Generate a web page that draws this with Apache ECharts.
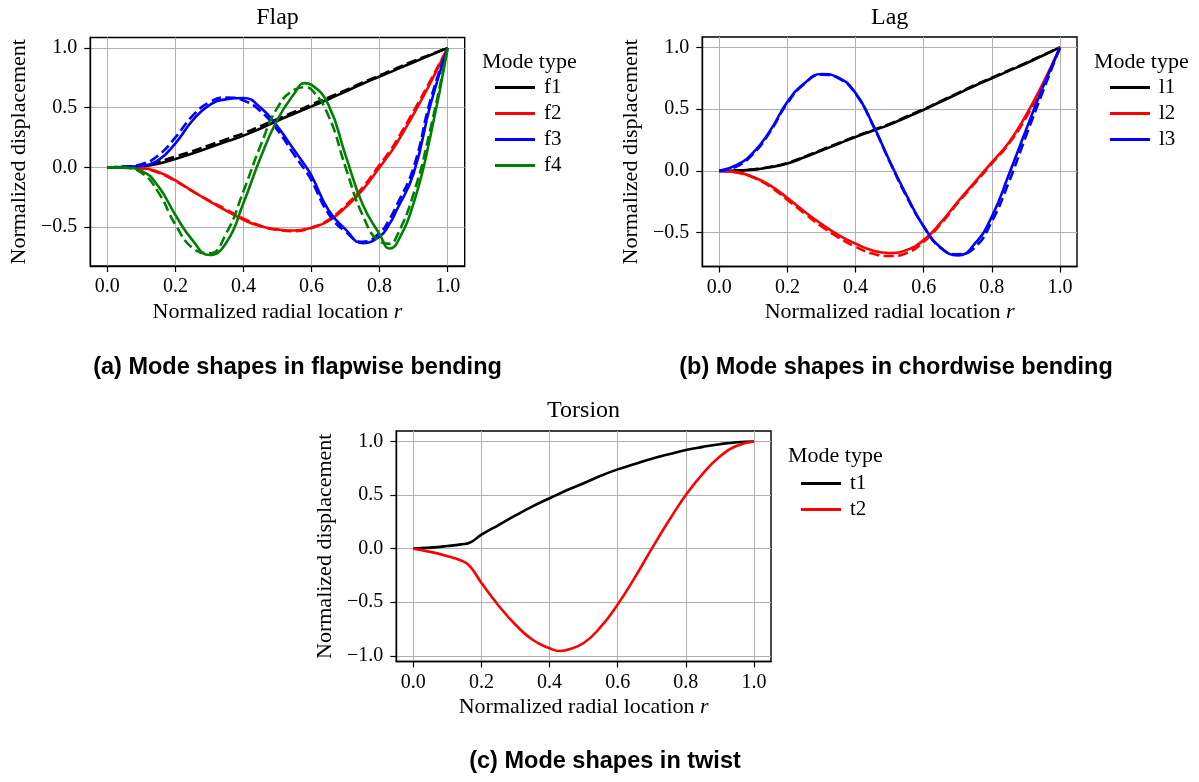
<!DOCTYPE html>
<html>
<head>
<meta charset="utf-8">
<script src="https://cdn.jsdelivr.net/npm/echarts@6/dist/echarts.min.js"></script>
<style>html,body{margin:0;padding:0;background:#fff}#chart{width:1199px;height:782px}</style>
</head>
<body>
<div id="chart"></div>
<script>
// ---------- data ----------
const xTicks = [0, 0.2, 0.4, 0.6, 0.8, 1.0];
const yTicksBend = [-0.5, 0, 0.5, 1.0];
const yTicksTwist = [-1.0, -0.5, 0, 0.5, 1.0];

const rFlap = [0,0.05,0.1,0.15,0.2,0.25,0.3,0.35,0.4,0.45,0.5,0.55,0.58,0.6,0.65,0.7,0.75,0.8,0.83,0.85,0.9,0.95,1.0];
const f1 = [0,0.002,0.008,0.03,0.07,0.115,0.165,0.215,0.265,0.325,0.39,0.45,0.485,0.51,0.57,0.635,0.70,0.76,0.795,0.82,0.88,0.94,1.0];
const f1Dash = [0,0.004,0.015,0.045,0.09,0.135,0.185,0.235,0.285,0.345,0.405,0.465,0.50,0.525,0.585,0.645,0.71,0.77,0.805,0.83,0.89,0.945,1.0];
const f2 = [0,-0.001,-0.006,-0.04,-0.11,-0.2,-0.285,-0.365,-0.44,-0.495,-0.52,-0.53,-0.52,-0.505,-0.45,-0.335,-0.19,0.0,0.115,0.2,0.445,0.71,1.0];
const f2Dash = [0,-0.002,-0.01,-0.045,-0.115,-0.2,-0.28,-0.355,-0.43,-0.49,-0.525,-0.535,-0.525,-0.51,-0.44,-0.32,-0.17,0.02,0.135,0.225,0.47,0.73,1.0];
const f3 = [0,0.002,0.012,0.06,0.2,0.39,0.52,0.57,0.58,0.5,0.34,0.14,0.02,-0.07,-0.36,-0.52,-0.635,-0.58,-0.47,-0.36,-0.05,0.53,1.0];
const f3Dash = [0,0.004,0.025,0.1,0.25,0.43,0.545,0.585,0.56,0.47,0.31,0.1,-0.02,-0.11,-0.39,-0.54,-0.625,-0.55,-0.43,-0.32,0.0,0.57,1.0];
const f4 = [0,-0.003,-0.03,-0.16,-0.4,-0.61,-0.735,-0.63,-0.3,0.08,0.4,0.62,0.705,0.69,0.52,0.1,-0.31,-0.56,-0.68,-0.64,-0.3,0.27,1.0];
const f4Dash = [0,-0.005,-0.045,-0.21,-0.48,-0.675,-0.72,-0.55,-0.2,0.18,0.5,0.65,0.67,0.65,0.43,0.0,-0.4,-0.62,-0.64,-0.58,-0.22,0.33,1.0];

const rLag = [0,0.05,0.1,0.15,0.2,0.25,0.3,0.35,0.4,0.45,0.5,0.55,0.6,0.65,0.7,0.75,0.8,0.85,0.9,0.95,1.0];
const l1 = [0,0.002,0.01,0.03,0.06,0.11,0.165,0.22,0.275,0.325,0.375,0.435,0.495,0.56,0.625,0.69,0.75,0.81,0.87,0.935,1.0];
const l1Dash = [0,0.003,0.012,0.033,0.065,0.115,0.17,0.225,0.28,0.33,0.38,0.44,0.5,0.565,0.63,0.695,0.755,0.815,0.875,0.938,1.0];
const l2 = [0,-0.01,-0.05,-0.12,-0.22,-0.33,-0.43,-0.52,-0.59,-0.645,-0.665,-0.64,-0.56,-0.42,-0.25,-0.09,0.07,0.23,0.45,0.71,1.0];
const l2Dash = [0,-0.012,-0.055,-0.13,-0.235,-0.345,-0.45,-0.54,-0.615,-0.67,-0.69,-0.665,-0.575,-0.43,-0.26,-0.1,0.06,0.22,0.43,0.69,1.0];
const l3 = [0,0.046,0.15,0.33,0.56,0.71,0.785,0.755,0.63,0.38,0.08,-0.2,-0.45,-0.62,-0.685,-0.59,-0.37,-0.03,0.33,0.68,1.0];
const l3Dash = [0,0.035,0.14,0.32,0.55,0.705,0.78,0.75,0.625,0.375,0.075,-0.21,-0.45,-0.625,-0.675,-0.62,-0.41,-0.09,0.28,0.645,1.0];

const rTwist = [0,0.05,0.1,0.14,0.165,0.2,0.25,0.3,0.35,0.4,0.43,0.45,0.5,0.55,0.6,0.65,0.7,0.75,0.8,0.85,0.9,0.95,1.0];
const t1 = [0,0.01,0.025,0.04,0.055,0.13,0.22,0.31,0.395,0.47,0.515,0.545,0.61,0.68,0.74,0.79,0.84,0.88,0.92,0.95,0.975,0.993,1.0];
const t2 = [0,-0.03,-0.07,-0.11,-0.16,-0.32,-0.53,-0.71,-0.85,-0.93,-0.955,-0.945,-0.88,-0.73,-0.52,-0.27,0.0,0.26,0.5,0.7,0.86,0.96,1.0];

// ---------- styles ----------
const SERIF = '"Liberation Serif", "DejaVu Serif", serif';
const SANS_B = '"Liberation Sans", Arial, sans-serif';
const C = {k: '#000000', r: '#ff0000', b: '#0000ff', g: '#008000'};

function fmt(v) { return v.toFixed(1).replace('-', '\u2212'); }
function pairs(xs, ys) { return xs.map((x, i) => [x, ys[i]]); }

const grids = [
  {left: 90.3, top: 37.5, width: 374.4, height: 228.5},
  {left: 702.3, top: 37, width: 374.7, height: 229.5},
  {left: 396.3, top: 431, width: 374.7, height: 230.5}
];
const yRanges = [[-0.827, 1.087], [-0.7745, 1.0845], [-1.053, 1.098]];
const yTickSets = [yTicksBend, yTicksBend, yTicksTwist];

const axisLineStyle = {show: true, onZero: false, lineStyle: {color: '#000', width: 1.4}};

const xAxes = grids.map((g, i) => ({
  type: 'value', gridIndex: i, min: -0.05, max: 1.05, position: 'bottom',
  axisLine: axisLineStyle,
  axisTick: {show: true, inside: false, customValues: xTicks, length: 6, lineStyle: {color: '#000', width: 1.2}},
  axisLabel: {customValues: xTicks, formatter: fmt, margin: 11, color: '#000', fontFamily: SERIF, fontSize: 20},
  splitLine: {show: true, lineStyle: {color: '#b0b0b0', width: 1}},
  name: 'Normalized radial location {i|r}', nameLocation: 'middle', nameGap: 35,
  nameTextStyle: {color: '#000', fontFamily: SERIF, fontSize: 22,
    rich: {i: {fontStyle: 'italic', fontFamily: SERIF, fontSize: 22, color: '#000'}}}
}));
const yAxes = grids.map((g, i) => ({
  type: 'value', gridIndex: i, min: yRanges[i][0], max: yRanges[i][1], position: 'left',
  axisLine: axisLineStyle,
  axisTick: {show: true, inside: false, customValues: yTickSets[i], length: 6, lineStyle: {color: '#000', width: 1.2}},
  axisLabel: {customValues: yTickSets[i], formatter: fmt, margin: 13, color: '#000', fontFamily: SERIF, fontSize: 20},
  splitLine: {show: true, lineStyle: {color: '#b0b0b0', width: 1}},
  name: 'Normalized displacement', nameLocation: 'middle', nameGap: 60, nameRotate: 90,
  nameTextStyle: {color: '#000', fontFamily: SERIF, fontSize: 22}
}));

function line(name, xs, ys, color, gi, dashed) {
  return {
    type: 'line', name: name, xAxisIndex: gi, yAxisIndex: gi,
    data: pairs(xs, ys), showSymbol: false, smooth: 0.5, color: color,
    lineStyle: {color: color, width: 2.6, type: dashed ? [10, 4.5] : 'solid'},
    emphasis: {disabled: true}, z: 3
  };
}

const series = [
  line('f1', rFlap, f1, C.k, 0, false), line('f1 dashed', rFlap, f1Dash, C.k, 0, true),
  line('f2', rFlap, f2, C.r, 0, false), line('f2 dashed', rFlap, f2Dash, C.r, 0, true),
  line('f3', rFlap, f3, C.b, 0, false), line('f3 dashed', rFlap, f3Dash, C.b, 0, true),
  line('f4', rFlap, f4, C.g, 0, false), line('f4 dashed', rFlap, f4Dash, C.g, 0, true),
  line('l1', rLag, l1, C.k, 1, false), line('l1 dashed', rLag, l1Dash, C.k, 1, true),
  line('l2', rLag, l2, C.r, 1, false), line('l2 dashed', rLag, l2Dash, C.r, 1, true),
  line('l3', rLag, l3, C.b, 1, false), line('l3 dashed', rLag, l3Dash, C.b, 1, true),
  line('t1', rTwist, t1, C.k, 2, false),
  line('t2', rTwist, t2, C.r, 2, false)
];

function legend(names, left, top) {
  return {
    data: names, orient: 'vertical', left: left, top: top, padding: 0,
    icon: 'rect', itemWidth: 40, itemHeight: 3, itemGap: 5,
    selectedMode: false,
    textStyle: {color: '#000', fontFamily: SERIF, fontSize: 21, lineHeight: 21, padding: [0, 0, 0, 4]}
  };
}

function txt(text, x, y, font, size, weight, align) {
  return {type: 'text', x: x, y: y, silent: true,
    style: {text: text, fill: '#000', font: (weight || 'normal') + ' ' + size + 'px ' + font,
      textAlign: align || 'center', textVerticalAlign: 'middle'}};
}

const option = {
  animation: false,
  backgroundColor: '#ffffff',
  grid: grids.map(g => Object.assign({show: true, borderColor: '#000', borderWidth: 1.4, backgroundColor: 'transparent'}, g)),
  xAxis: xAxes,
  yAxis: yAxes,
  legend: [
    legend(['f1', 'f2', 'f3', 'f4'], 495, 77),
    legend(['l1', 'l2', 'l3'], 1110, 77),
    legend(['t1', 't2'], 801, 473)
  ],
  series: series,
  graphic: [
    txt('Flap', 277.5, 18, SERIF, 24),
    txt('Lag', 889.7, 18, SERIF, 24),
    txt('Torsion', 583.6, 411, SERIF, 24),
    txt('Mode type', 482, 62, SERIF, 22, 'normal', 'left'),
    txt('Mode type', 1094, 62, SERIF, 22, 'normal', 'left'),
    txt('Mode type', 788, 456, SERIF, 22, 'normal', 'left'),
    txt('(a) Mode shapes in flapwise bending', 297.5, 368, SANS_B, 23.5, 'bold'),
    txt('(b) Mode shapes in chordwise bending', 896, 368, SANS_B, 23.5, 'bold'),
    txt('(c) Mode shapes in twist', 605, 762, SANS_B, 23.5, 'bold')
  ]
};

const chart = echarts.init(document.getElementById('chart'), null, {renderer: 'canvas'});
chart.setOption(option);
</script>
</body>
</html>
